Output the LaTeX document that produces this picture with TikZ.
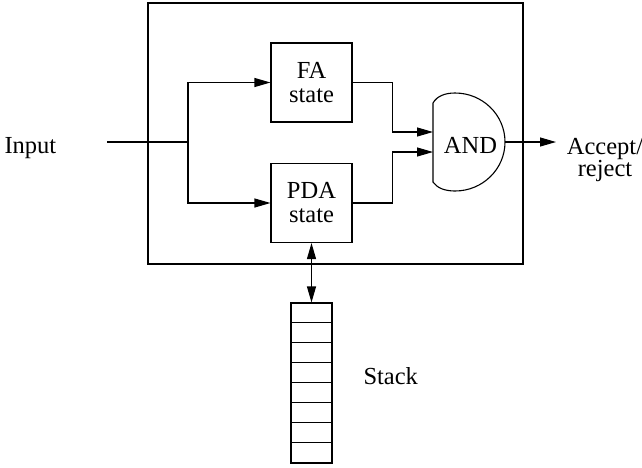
\documentclass[tikz,border=0pt]{standalone}
\usepackage{fontspec}
\setmainfont{Liberation Serif}
\usetikzlibrary{arrows.meta}
\begin{document}
\begin{tikzpicture}[x=1pt,y=-1pt, line width=1.1pt,
  statebox/.style={draw, minimum width=81pt, minimum height=79pt, inner sep=0pt, align=center, font=\fontsize{24.5}{24}\selectfont},
  lbl/.style={font=\fontsize{24.5}{20.5}\selectfont, inner sep=0pt},
  tip/.tip={Triangle[length=16pt,width=9pt]},
  arr/.style={-tip}]
\useasboundingbox (0,0) rectangle (642,467);
% outer frame
\node[draw, minimum width=375pt, minimum height=261pt, inner sep=0pt] (outer) at (335.5,133.5) {};
% state boxes
\node[statebox] (fa) at (311.5,82.5) {FA\\state};
\node[statebox] (pda) at (311.5,203) {PDA\\state};
% AND gate
\draw (433,103) .. controls (437,96) and (445,93) .. (455,93)
  arc[start angle=-90, end angle=90, x radius=50, y radius=49]
  .. controls (445,191) and (437,188) .. (433,182) -- cycle;
\node[lbl, anchor=base] (andg) at (470.5,153) {AND};
\coordinate (andin1) at (433,132);
\coordinate (andin2) at (433,152);
\coordinate (andout) at (505,142);
\coordinate (accin) at (556,142);
% input
\node[lbl, anchor=base west] (input) at (4,153) {Input};
\coordinate (inp) at (107,142);
\coordinate (split) at (188,142);
\draw (inp) -- (split);
\draw[arr] (split) |- (fa.west);
\draw[arr] (split) |- (pda.west);
% to AND
\draw[arr] (fa.east) -- ++(40,0) |- (andin1);
\draw[arr] (pda.east) -- ++(40,0) |- (andin2);
% output
\draw[arr] (andout) -- (accin);
\node[lbl, align=center, anchor=north] (acc) at (605,137.5) {Accept/\\reject};
% stack
\node[draw, minimum width=41pt, minimum height=160pt, inner sep=0pt] (stack) at (311.5,383) {};
\foreach \i in {1,...,7} \draw (stack.north west) ++(0,20*\i) -- ++(41,0);
\draw[tip-tip] (pda.south) -- (stack.north);
\node[lbl, anchor=base west] (stacklbl) at (363,384) {Stack};
\end{tikzpicture}
\end{document}
